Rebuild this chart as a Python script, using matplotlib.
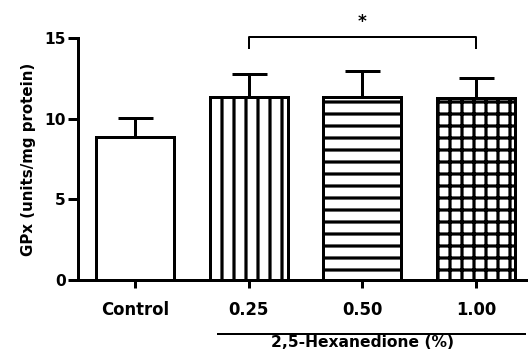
import matplotlib
matplotlib.use("Agg")
import matplotlib.pyplot as plt
import matplotlib.transforms as mtransforms
import numpy as np

# === dati ===
gruppi = ["Control", "0.25", "0.50", "1.00"]
medie = [8.85, 11.36, 11.36, 11.30]
sem = [1.18, 1.41, 1.62, 1.20]
tratteggi = ["", "|", "-", "+"]

plt.rcParams["font.family"] = "DejaVu Sans"
plt.rcParams["font.weight"] = "bold"
plt.rcParams["hatch.linewidth"] = 3.2
plt.rcParams["hatch.color"] = "black"

fig = plt.figure(figsize=(528 / 72, 352 / 72), dpi=72)
ax = fig.add_axes([78 / 528, 72 / 352, 455 / 528, 242 / 352])

x = np.arange(len(gruppi))
for i in range(len(gruppi)):
    ax.bar(x[i], medie[i], 0.686, color="white", edgecolor="black",
           linewidth=3, hatch=tratteggi[i], zorder=2)
ax.errorbar(x, medie, yerr=[np.zeros(len(sem)), sem], fmt="none",
            ecolor="black", elinewidth=3, capsize=17.5, capthick=3,
            zorder=1, clip_on=False)

ax.set_xlim(-0.5, 3.5)
ax.set_ylim(0, 15)
ax.set_yticks([0, 5, 10, 15])
ax.set_xticks(x)
ax.set_xticklabels(gruppi, fontsize=16.5, fontweight="bold")
ax.tick_params(axis="y", labelsize=15.5, width=3, length=10, pad=2)
ax.tick_params(axis="x", width=3, length=8, pad=13)
for lab in ax.get_yticklabels():
    lab.set_fontweight("bold")
ax.spines["top"].set_visible(False)
ax.spines["right"].set_visible(False)
ax.spines["left"].set_linewidth(3)
ax.spines["bottom"].set_linewidth(3)
ax.set_ylabel("GPx (units/mg protein)", fontsize=15, fontweight="bold", labelpad=8)

# significativita
ax.plot([1, 1, 3, 3], [14.4, 15.06, 15.06, 14.4], color="black", lw=2, clip_on=False)
ax.text(2, 16.0, "*", ha="center", va="center", fontsize=17, fontweight="bold")

# linea del gruppo sotto l'asse x
trans = mtransforms.blended_transform_factory(ax.transData, ax.transAxes)
ax.plot([0.73, 3.43], [-0.225, -0.225], color="black", lw=2,
        transform=trans, clip_on=False)
ax.text(2.0, -0.228, "2,5-Hexanedione (%)", transform=trans, ha="center",
        va="top", fontsize=15.5, fontweight="bold")

fig.savefig("out.png", dpi=72)
